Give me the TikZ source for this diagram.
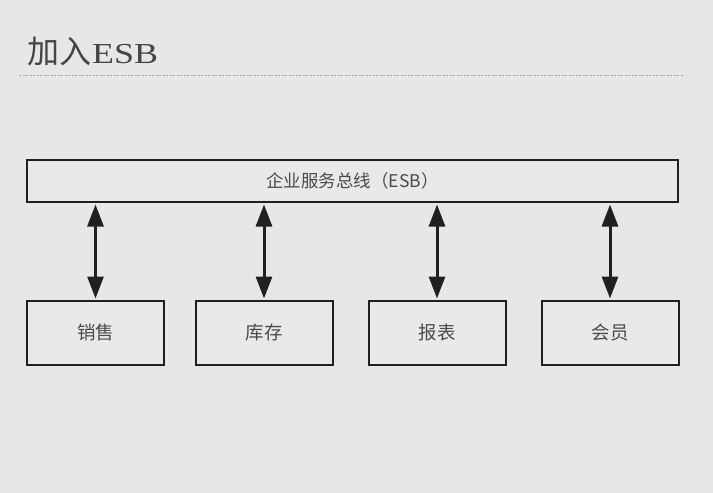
\documentclass[tikz,border=0pt]{standalone}
\usepackage{fontspec}
\setmainfont{Liberation Serif}
\newfontfamily\cjk{Noto Sans CJK SC}
\usetikzlibrary{arrows.meta}
\definecolor{bg}{HTML}{E7E7E7}
\definecolor{boxfill}{HTML}{E9E9E9}
\definecolor{txt}{HTML}{4A4A4A}
\definecolor{ttl}{HTML}{454545}
\definecolor{edge}{HTML}{202020}
\tikzset{
  sysbox/.style={draw=edge, line width=2pt, fill=boxfill, minimum width=137pt, minimum height=64pt, inner sep=0pt,
    font=\cjk\fontsize{18.5}{18.5}\selectfont, text=txt},
  busbox/.style={draw=edge, line width=2pt, fill=boxfill, minimum width=651pt, minimum height=42pt, inner sep=0pt,
    font=\cjk\fontsize{17.5}{17.5}\selectfont, text=txt},
  biarrow/.style={draw=edge, line width=3pt, {Triangle[length=22pt,width=16pt]}-{Triangle[length=22pt,width=16pt]}, shorten <=1.5pt, shorten >=1pt},
  rule/.style={draw=gray!70, line width=0.7pt, dash pattern=on 2pt off 1.5pt}
}
\begin{document}
\begin{tikzpicture}[x=1pt,y=-1pt]
\fill[bg] (0,0) rectangle (713,493);
\useasboundingbox (0,0) rectangle (713,493);
\node[anchor=base west, inner sep=0pt, text=ttl] (title) at (27,63) {{\cjk\fontsize{32}{32}\selectfont 加入}\hspace{1pt}\scalebox{1.24}[1]{\fontsize{29}{29}\selectfont ESB}};
\coordinate (rl) at (19,75);
\coordinate (rr) at (683,75);
\draw[rule] (rl) -- (rr);
\node[busbox] (bus) at (352.5,181) {企业服务总线（ESB）};
\node[sysbox] (b1) at (95.5,332.5) {销售};
\node[sysbox] (b2) at (264,332.5) {库存};
\node[sysbox] (b3) at (437,332.5) {报表};
\node[sysbox] (b4) at (610,332.5) {会员};
\foreach \b in {b1,b2,b3,b4}{
  \draw[biarrow] (bus.south -| \b.north) -- (\b.north);
}
\end{tikzpicture}
\end{document}
